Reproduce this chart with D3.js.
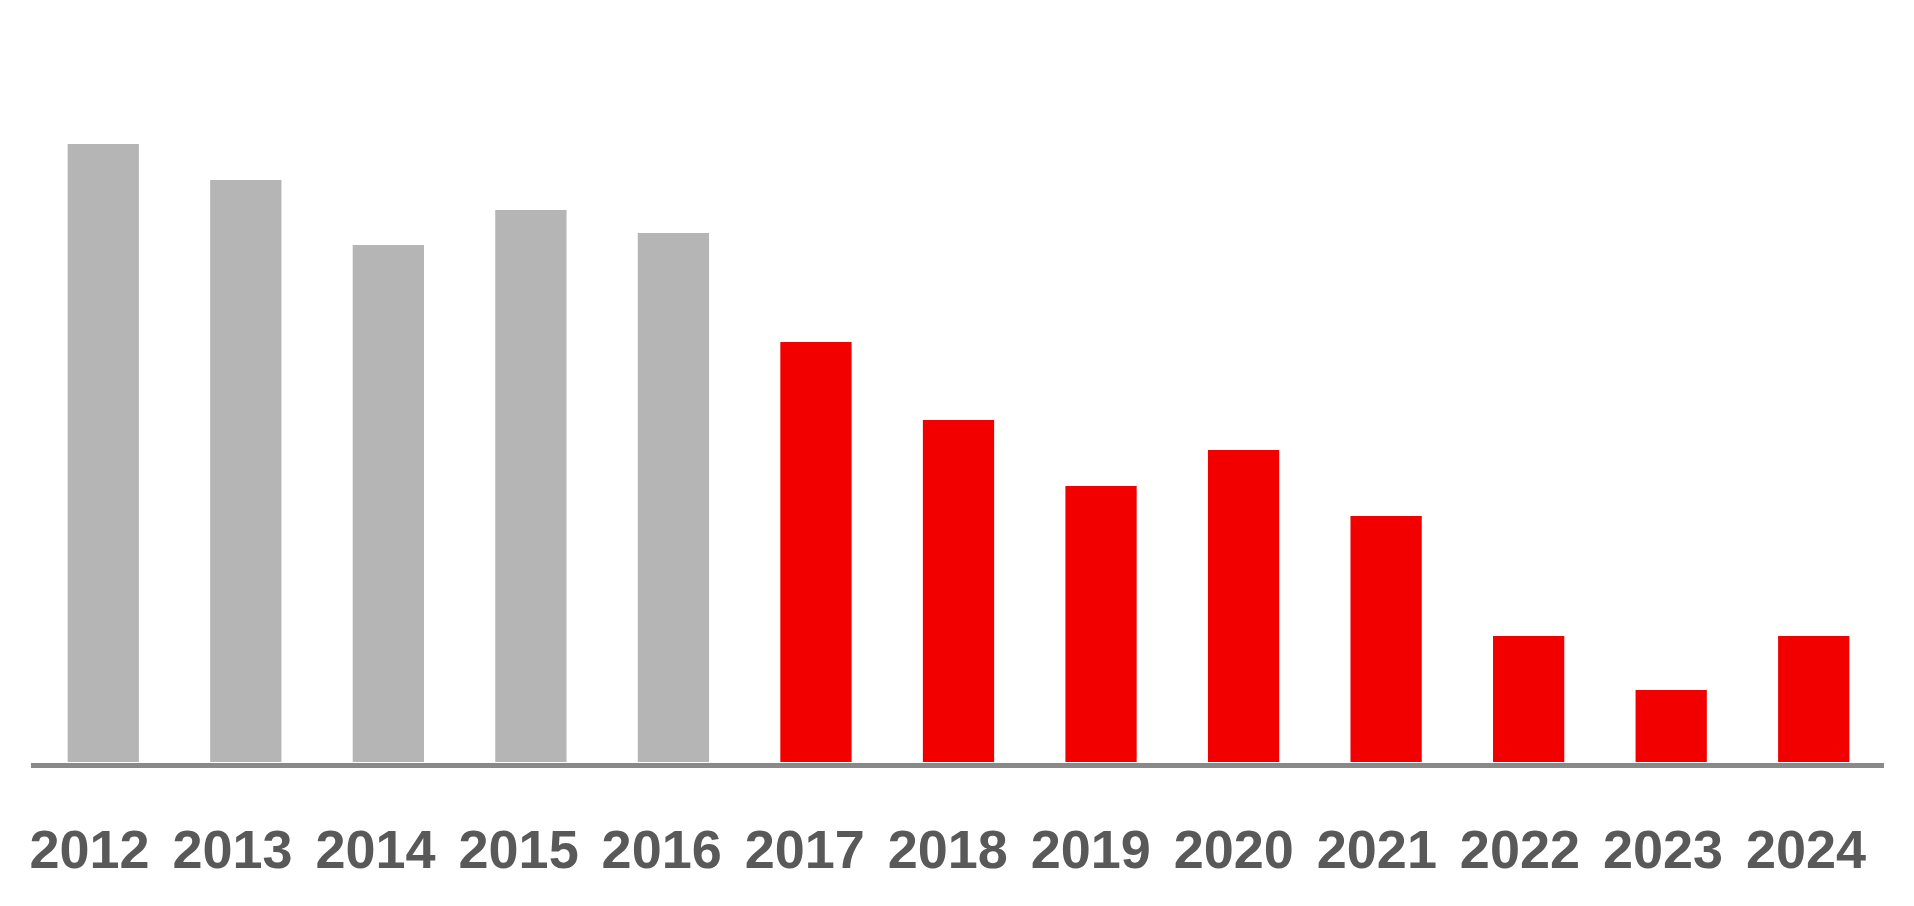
<!DOCTYPE html>
<html>
<head>
<meta charset="utf-8">
<script src="https://cdn.jsdelivr.net/npm/d3@7"></script>
<style>
  html, body { margin: 0; padding: 0; background: #fff; }
  .label { font-family: "Liberation Sans", Arial, sans-serif; font-weight: bold; font-size: 54px; fill: #595959; }
</style>
</head>
<body>
<div id="chart"></div>
<script>
// years along the x axis
var years = ["2012", "2013", "2014", "2015", "2016", "2017", "2018", "2019", "2020", "2021", "2022", "2023", "2024"];
// bar heights (relative units)
var values = [618, 582, 517, 552, 529, 420, 342, 276, 312, 246, 126, 72, 126];
// first five years are grey, the rest highlighted
var highlight = [false, false, false, false, false, true, true, true, true, true, true, true, true];

var width = 1914,
    height = 906,
    baseY = 762;

var svg = d3.select("#chart").append("svg")
    .attr("width", width)
    .attr("height", height);

var xScale = d3.scaleBand()
    .domain(years)
    .range([32, 1885])
    .paddingInner(0.5)
    .paddingOuter(0.25);

var yScale = d3.scaleLinear()
    .domain([0, 618])
    .range([baseY, 144]);

// labels sit a little left of the bars in the original
var labelScale = d3.scalePoint()
    .domain(years)
    .range([89.5, 1806]);

svg.append("g")
  .selectAll("rect")
    .data(years)
  .enter().append("rect")
    .attr("x", function(d) { return xScale(d); })
    .attr("width", xScale.bandwidth())
    .attr("y", function(d, i) { return yScale(values[i]); })
    .attr("height", function(d, i) { return baseY - yScale(values[i]); })
    .attr("fill", function(d, i) { return highlight[i] ? "#f20000" : "#b5b5b5"; });

// baseline
svg.append("line")
    .attr("x1", 31)
    .attr("x2", 1884)
    .attr("y1", 765.5)
    .attr("y2", 765.5)
    .attr("stroke", "#898989")
    .attr("stroke-width", 5);

svg.append("g")
  .selectAll("text")
    .data(years)
  .enter().append("text")
    .attr("class", "label")
    .attr("text-anchor", "middle")
    .attr("x", function(d) { return labelScale(d); })
    .attr("y", 868)
    .text(function(d) { return d; });
</script>
</body>
</html>
